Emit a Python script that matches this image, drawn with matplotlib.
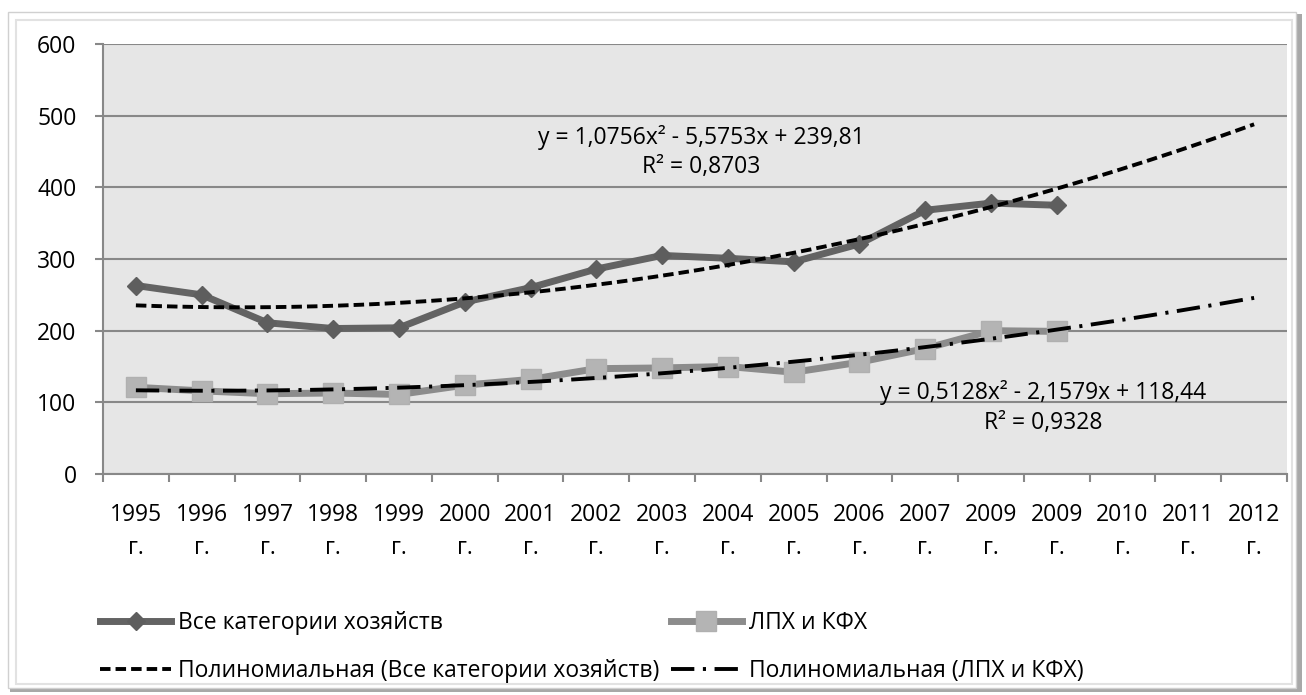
import matplotlib.pyplot as plt
import matplotlib.patches as mpatches
from matplotlib.lines import Line2D
import numpy as np

plt.rcParams['font.family'] = ['Open Sans', 'DejaVu Sans']

# %% data
years = ['1995', '1996', '1997', '1998', '1999', '2000', '2001', '2002', '2003',
         '2004', '2005', '2006', '2007', '2009', '2009', '2010', '2011', '2012']
all_farms = [263, 250, 211, 203, 204, 240, 260, 286, 305, 301, 296, 321, 368, 378, 375]
lph_kfh = [121, 116, 112, 113, 111, 124, 132, 147, 148, 150, 142, 156, 175, 200, 199]

# trendline coefficients as shown on the chart
trend_all = [1.0756, -5.5753, 239.81]
trend_lph = [0.5128, -2.1579, 118.44]
eq_all = 'y = 1,0756x² - 5,5753x + 239,81\nR² = 0,8703'
eq_lph = 'y = 0,5128x² - 2,1579x + 118,44\nR² = 0,9328'

name_all = 'Все категории хозяйств'
name_lph = 'ЛПХ и КФХ'

FS = 16.5
DASH = (2.7, 1.3)
DASHDOT = (6.0, 2.2, 0.8, 2.2)

# %% figure
W, H = 1306, 695
fig = plt.figure(figsize=(W / 100, H / 100), dpi=100)

# chart frame with shadow
fig.patches.append(mpatches.Rectangle((10 / W, 1 - 692 / H), 1292 / W, 678 / H,
                                      transform=fig.transFigure, facecolor='#a8a8a8',
                                      edgecolor='none', zorder=-2))
fig.patches.append(mpatches.Rectangle((8 / W, 1 - 688 / H), 1288 / W, 676 / H,
                                      transform=fig.transFigure, facecolor='white',
                                      edgecolor='#d0d0d0', lw=1, zorder=-1))
fig.patches.append(mpatches.Rectangle((16 / W, 1 - 684 / H), 1276 / W, 664 / H,
                                      transform=fig.transFigure, facecolor='none',
                                      edgecolor='#e2e2e2', lw=1.5, zorder=-1))

ax = fig.add_axes([103 / W, 1 - 474 / H, (1287 - 103) / W, (474 - 44) / H])
ax.set_zorder(1)
ax.set_facecolor('#e6e6e6')

x_all = np.arange(1, len(all_farms) + 1)
x_lph = np.arange(1, len(lph_kfh) + 1)
xt = np.linspace(1, len(years), 200)

grid_c = '#888888'

ax.plot(x_all, all_farms, color='#636363', lw=5, marker='D', markersize=9,
        markerfacecolor='#5e5e5e', markeredgecolor='#5e5e5e', zorder=3)
ax.plot(x_lph, lph_kfh, color='#8c8c8c', lw=5, marker='s', markersize=14,
        markerfacecolor='#b4b4b4', markeredgecolor='#b0b0b0', zorder=3)

ax.plot(xt, np.polyval(trend_all, xt), color='black', lw=2.8,
        dashes=DASH, zorder=4)
ax.plot(xt, np.polyval(trend_lph, xt), color='black', lw=2.8,
        dashes=DASHDOT, zorder=4)

ax.text(9.6, 449, eq_all, ha='center', va='center', multialignment='center',
        fontsize=FS, linespacing=1.3, zorder=5)
ax.text(14.79, 93, eq_lph, ha='center', va='center', multialignment='center',
        fontsize=FS, linespacing=1.3, zorder=5)

# axes
ax.set_xlim(0.5, len(years) + 0.5)
ax.set_ylim(0, 600)
ax.set_yticks(np.arange(0, 601, 100))
ax.yaxis.grid(True, color=grid_c, lw=1.5)
ax.set_axisbelow(True)
ax.tick_params(axis='y', length=6, width=1.5, color=grid_c, pad=13, labelsize=FS)

ax.set_xticks(np.arange(0.5, len(years) + 1, 1))
ax.set_xticklabels([])
ax.tick_params(axis='x', which='major', length=6, width=1.5, color=grid_c)
ax.set_xticks(np.arange(1, len(years) + 1), minor=True)
ax.set_xticklabels([y + '\nг.' for y in years], minor=True, fontsize=FS,
                   linespacing=1.5)
ax.tick_params(axis='x', which='minor', length=0, pad=21)

for s in ['top', 'right']:
    ax.spines[s].set_visible(False)
for s in ['left', 'bottom']:
    ax.spines[s].set_color(grid_c)
    ax.spines[s].set_linewidth(1.5)

# legend
handles = [
    Line2D([], [], color='#636363', lw=5, marker='D', markersize=9,
           markerfacecolor='#5e5e5e', markeredgecolor='#5e5e5e'),
    Line2D([], [], color='black', lw=2.8, dashes=DASH),
    Line2D([], [], color='#8c8c8c', lw=5, marker='s', markersize=14,
           markerfacecolor='#b4b4b4', markeredgecolor='#b0b0b0'),
    Line2D([], [], color='black', lw=2.8, dashes=DASHDOT),
]
labels = [name_all, 'Полиномиальная (' + name_all + ')',
          name_lph, 'Полиномиальная (' + name_lph + ')']
fig.legend(handles, labels, ncol=2, loc='upper left',
           bbox_to_anchor=(100 / W, 1 - 611 / H), frameon=False, fontsize=FS,
           handlelength=3.1, handletextpad=0.3, columnspacing=0.5,
           labelspacing=1.05, borderpad=0, borderaxespad=0)

fig.savefig('out.png', dpi=100)
